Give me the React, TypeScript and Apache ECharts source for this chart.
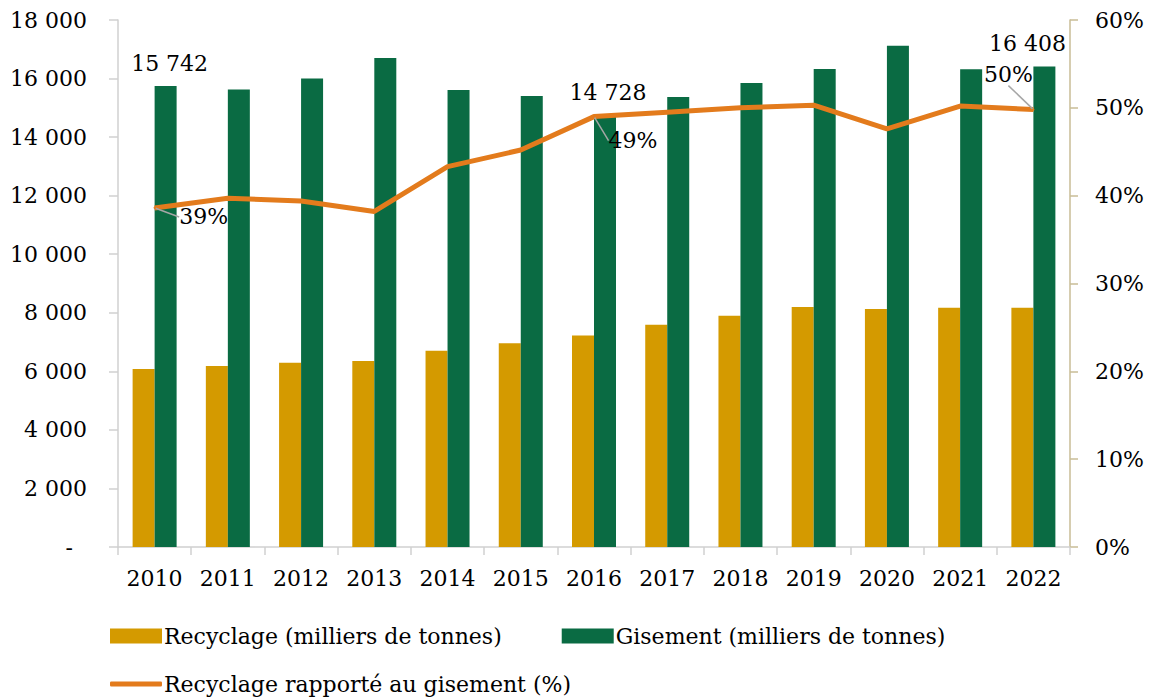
import React, { useEffect, useRef } from "react";
import * as echarts from "echarts";

const years = ["2010", "2011", "2012", "2013", "2014", "2015", "2016", "2017", "2018", "2019", "2020", "2021", "2022"];
const recyclage = [6080, 6180, 6290, 6350, 6700, 6960, 7220, 7590, 7900, 8200, 8130, 8170, 8170];
const gisement = [15742, 15630, 16000, 16700, 15610, 15400, 14728, 15370, 15850, 16330, 17120, 16315, 16408];
const ratio = [38.6, 39.7, 39.4, 38.2, 43.3, 45.2, 49.0, 49.5, 50.0, 50.3, 47.6, 50.2, 49.8];
const gisementLabelIdx = [0, 6, 12];
const ratioLabelIdx = [0, 6, 12];

const FONT = "DejaVu Serif";
const fmt = (v: number) => String(Math.round(v)).replace(/\B(?=(\d{3})+(?!\d))/g, " ");

export default function App() {
  const ref = useRef<HTMLDivElement>(null);
  useEffect(() => {
    if (!ref.current) return;
    const chart = echarts.init(ref.current, undefined, { renderer: "svg" });
    const textStyle = { fontFamily: FONT, fontSize: 22, color: "#000" };
    const ratioLayout: Record<number, { dx: number; dy: number }> = {
      0: { dx: 49, dy: 9 },
      6: { dx: 39, dy: 24 },
      12: { dx: -25, dy: -35 },
    };
    chart.setOption({
      animation: false,
      textStyle: { fontFamily: FONT },
      grid: { left: 118, right: 84, top: 20, bottom: 152, containLabel: false },
      legend: [
        {
          data: ["Recyclage (milliers de tonnes)", "Gisement (milliers de tonnes)"],
          left: 105,
          top: 620,
          itemWidth: 52,
          itemHeight: 15,
          itemGap: 60,
          icon: "rect",
          textStyle: { ...textStyle, padding: [0, 0, 0, -3] },
        },
        {
          data: ["Recyclage rapporté au gisement (%)"],
          left: 105,
          top: 668,
          itemWidth: 52,
          itemHeight: 5,
          icon: "roundRect",
          textStyle: { ...textStyle, padding: [0, 0, 0, -3] },
        },
      ],
      xAxis: {
        type: "category",
        data: years,
        axisLine: { lineStyle: { color: "#d0d0d0", width: 1.5 } },
        axisTick: { show: true, length: 8, lineStyle: { color: "#d0d0d0", width: 1.5 } },
        axisLabel: { ...textStyle, margin: 20 },
      },
      yAxis: [
        {
          type: "value",
          min: 0,
          max: 18000,
          interval: 2000,
          axisLine: { show: true, lineStyle: { color: "#d0d0d0", width: 1.5 } },
          axisTick: { show: true, length: 9, lineStyle: { color: "#d0d0d0", width: 1.5 } },
          splitLine: { show: false },
          axisLabel: { ...textStyle, margin: 31, formatter: (v: number) => (v === 0 ? "-  " : fmt(v)) },
        },
        {
          type: "value",
          min: 0,
          max: 60,
          interval: 10,
          position: "right",
          axisLine: { show: true, lineStyle: { color: "#c8bc96", width: 1.5 } },
          axisTick: { show: true, length: 8, lineStyle: { color: "#c8bc96", width: 1.5 } },
          splitLine: { show: false },
          axisLabel: { ...textStyle, margin: 25, formatter: "{value}%" },
        },
      ],
      series: [
        {
          name: "Recyclage (milliers de tonnes)",
          type: "bar",
          data: recyclage,
          barWidth: 22,
          barGap: "0%",
          itemStyle: { color: "#d49a00" },
        },
        {
          name: "Gisement (milliers de tonnes)",
          type: "bar",
          data: gisement.map((v, i) =>
            gisementLabelIdx.includes(i)
              ? {
                  value: v,
                  label: {
                    show: true,
                    position: "top",
                    distance: 12,
                    offset: i === 12 ? [-17, 0] : i === 0 ? [4, 0] : [3, 0],
                    formatter: (p: any) => fmt(p.value),
                    ...textStyle,
                  },
                }
              : v
          ),
          barWidth: 22,
          barGap: "0%",
          itemStyle: { color: "#0a6b43" },
        },
        {
          name: "Recyclage rapporté au gisement (%)",
          type: "line",
          yAxisIndex: 1,
          data: ratio.map((v, i) =>
            ratioLabelIdx.includes(i)
              ? {
                  value: v,
                  label: {
                    show: true,
                    position: "inside",
                    formatter: (p: any) => Math.round(p.value) + "%",
                    ...textStyle,
                  },
                  labelLine: { show: true, lineStyle: { color: "#a6a6a6", width: 1.5 } },
                }
              : v
          ),
          symbol: "circle",
          symbolSize: 2,
          showSymbol: true,
          lineStyle: { color: "#e37b1c", width: 5 },
          itemStyle: { color: "#e37b1c" },
          labelLayout: (p: any) => ratioLayout[p.dataIndex] || {},
          z: 3,
        },
      ],
    });
    return () => chart.dispose();
  }, []);
  return <div ref={ref} style={{ width: 1154, height: 699, position: "absolute", left: 0, top: 0 }} />;
}
